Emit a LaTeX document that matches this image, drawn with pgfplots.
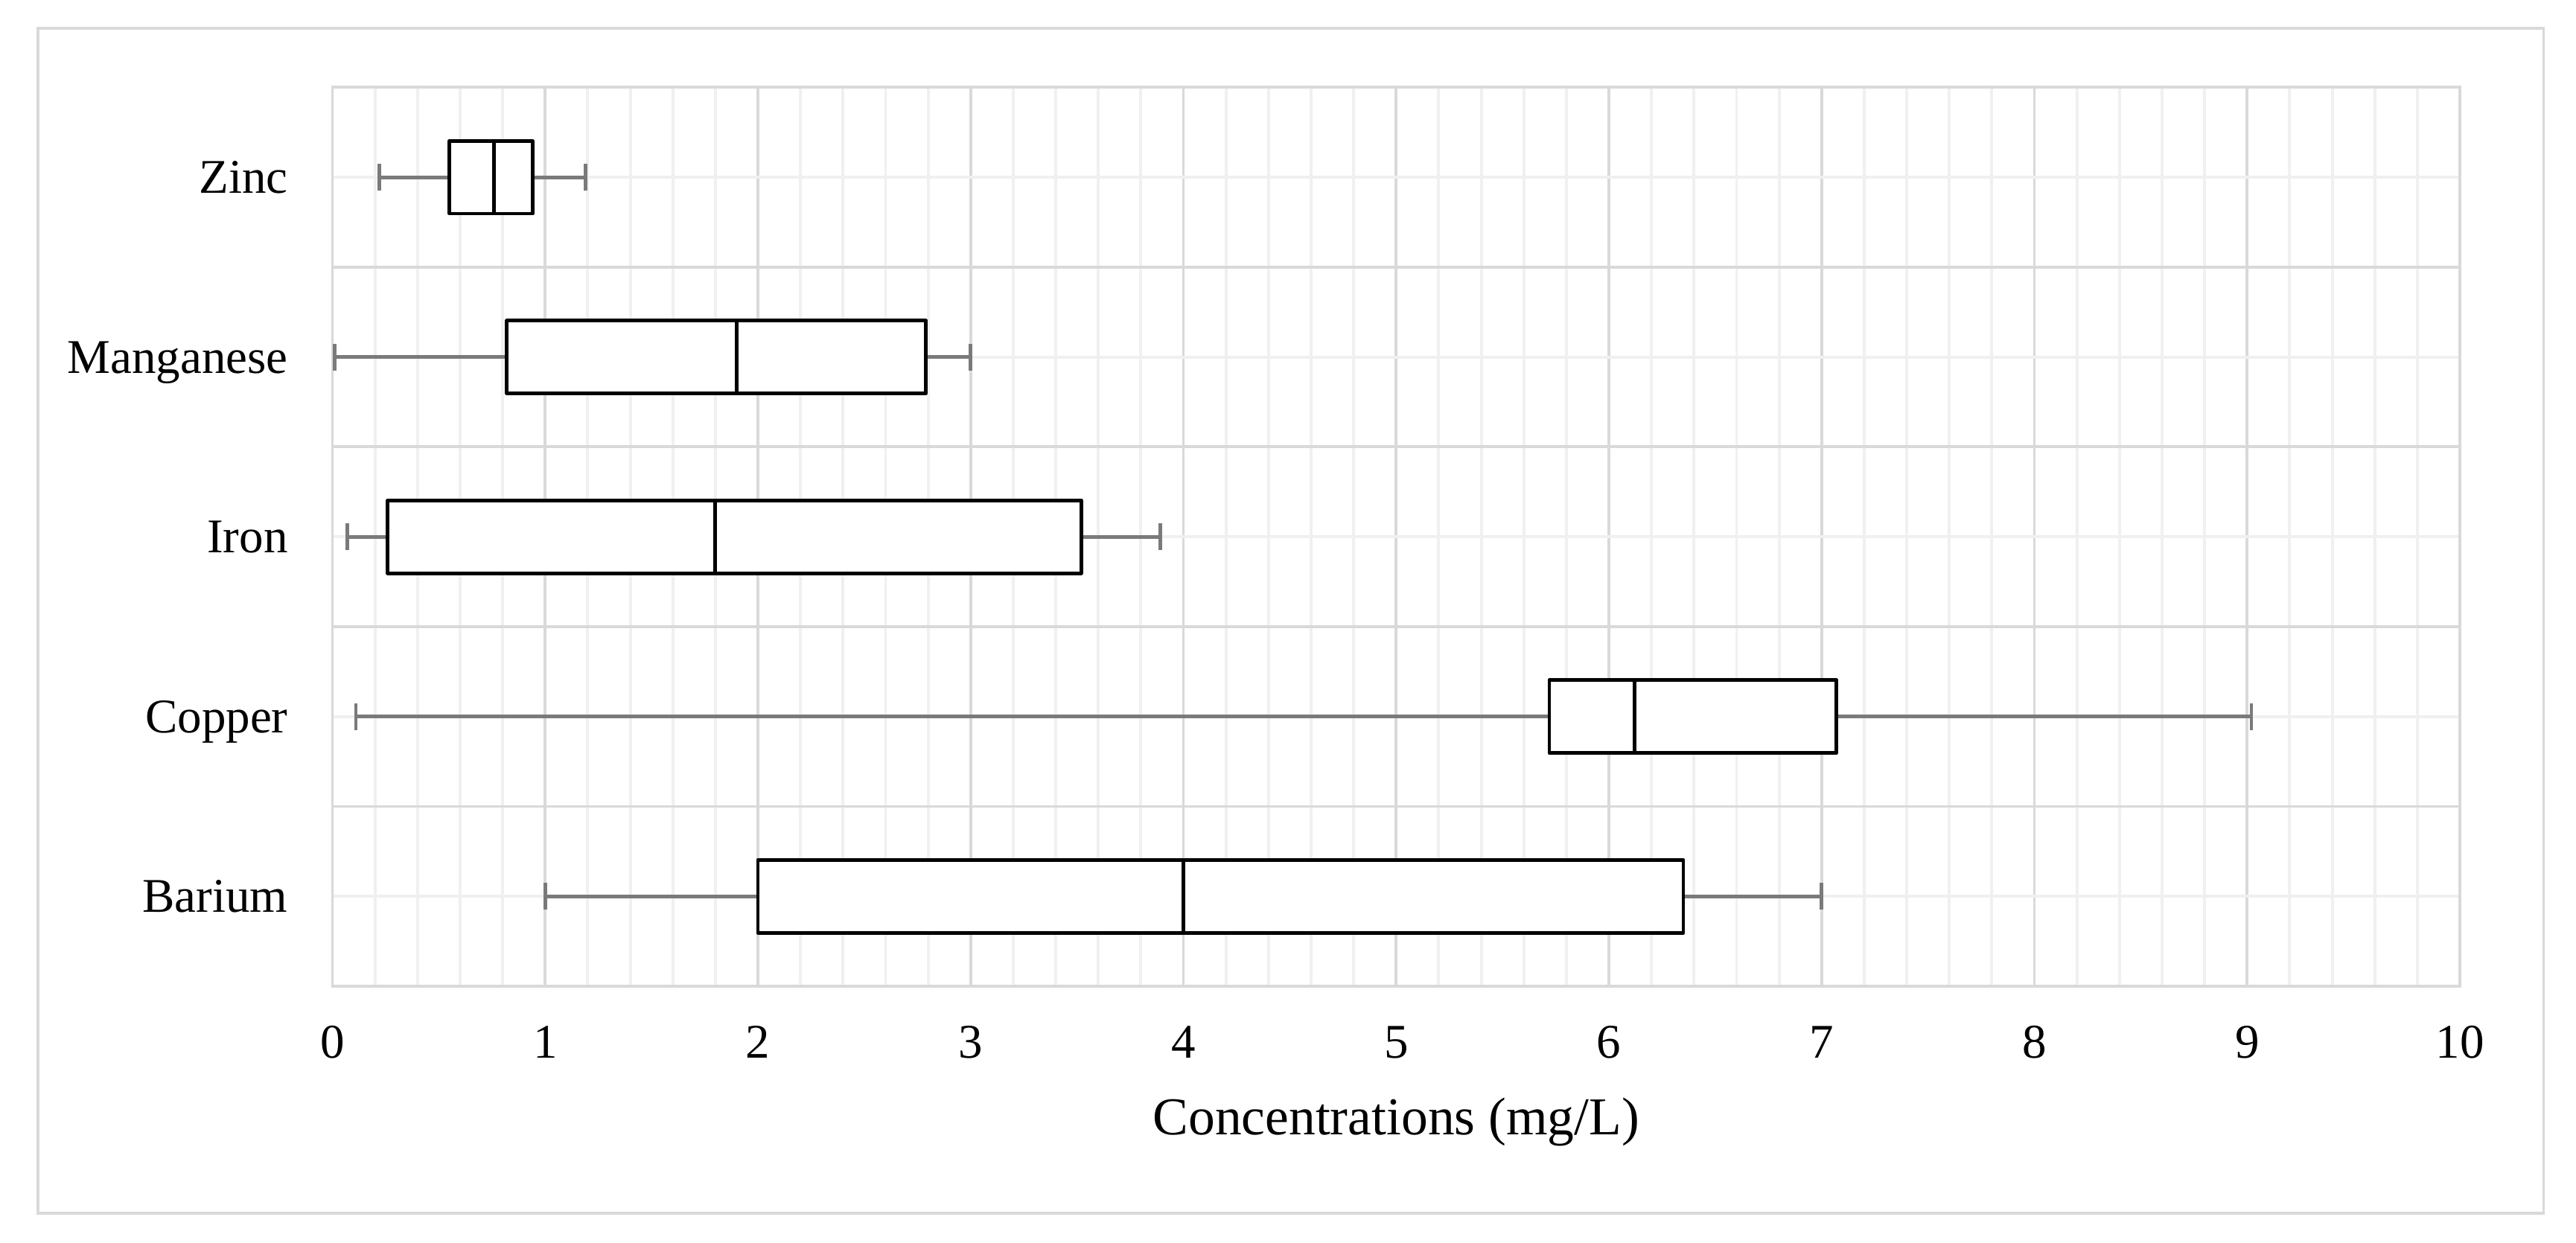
\documentclass[border=0pt]{standalone}
\usepackage{fontspec}
\setmainfont{Liberation Serif}
\usepackage{pgfplots}
\pgfplotsset{compat=1.18}
\usepgfplotslibrary{statistics}
\definecolor{gmaj}{HTML}{D9D9D9}
\definecolor{gmin}{HTML}{F0F0F0}
\definecolor{wh}{HTML}{7A7A7A}
\begin{document}
\begin{tikzpicture}
\fill[white] (-68.7pt,-53.05pt) rectangle (463.6pt,203.85pt);
\begin{axis}[
  at={(0,0)}, anchor=south west,
  scale only axis, width=439.6pt, height=185.8pt,
  xmin=0, xmax=10, ymin=0.5, ymax=5.5,
  xtick={0,...,10}, minor x tick num=4,
  ytick={0.5,1.5,...,5.5}, yticklabels={,,,,,}, minor y tick num=1,
  extra y ticks={1,2,3,4,5},
  extra y tick labels={Barium,Copper,Iron,Manganese,Zinc},
  extra y tick style={grid=none},
  xmajorgrids, xminorgrids, ymajorgrids, yminorgrids,
  major grid style={gmaj, line width=0.6pt},
  minor grid style={gmin, line width=0.6pt},
  axis line style={gmaj, line width=0.6pt},
  major tick length=0pt, minor tick length=0pt,
  tick style={draw=none},
  /pgf/number format/assume math mode=true,
  tick label style={font=\fontsize{10}{12}\selectfont, black},
  xticklabel style={anchor=center, yshift=-11.5pt, text depth=0pt},
  yticklabel style={anchor=east, xshift=-5.7pt, text height=6.6pt, text depth=0pt},
  xlabel={Concentrations (mg/L)},
  xlabel style={font=\fontsize{11}{13}\selectfont, anchor=center, at={(axis description cs:0.5,0)}, yshift=-28pt},
  boxplot/draw direction=x,
  boxplot/box extend=0.405,
  boxplot/whisker extend=0.15,
  boxplot/every box/.style={draw=black, fill=white, line width=0.75pt, line join=round},
  boxplot/every median/.style={draw=black, line width=0.75pt},
  boxplot/every whisker/.style={draw=wh, line width=0.75pt},
]
\addplot[black, boxplot prepared={draw position=1, lower whisker=1.0, lower quartile=2.0, median=4.0, upper quartile=6.35, upper whisker=7.0}] coordinates {};
\addplot[black, boxplot prepared={draw position=2, lower whisker=0.11, lower quartile=5.72, median=6.12, upper quartile=7.07, upper whisker=9.02}] coordinates {};
\addplot[black, boxplot prepared={draw position=3, lower whisker=0.07, lower quartile=0.26, median=1.80, upper quartile=3.52, upper whisker=3.89}] coordinates {};
\addplot[black, boxplot prepared={draw position=4, lower whisker=0.01, lower quartile=0.82, median=1.90, upper quartile=2.79, upper whisker=3.00}] coordinates {};
\addplot[black, boxplot prepared={draw position=5, lower whisker=0.22, lower quartile=0.55, median=0.76, upper quartile=0.94, upper whisker=1.19}] coordinates {};
\end{axis}
\draw[gmaj, line width=0.6pt] (-60.9pt,-46.95pt) rectangle (456.9pt,198.05pt);
\pgfresetboundingbox
\path[use as bounding box] (-68.7pt,-53.05pt) rectangle (463.6pt,203.85pt);
\end{tikzpicture}
\end{document}
